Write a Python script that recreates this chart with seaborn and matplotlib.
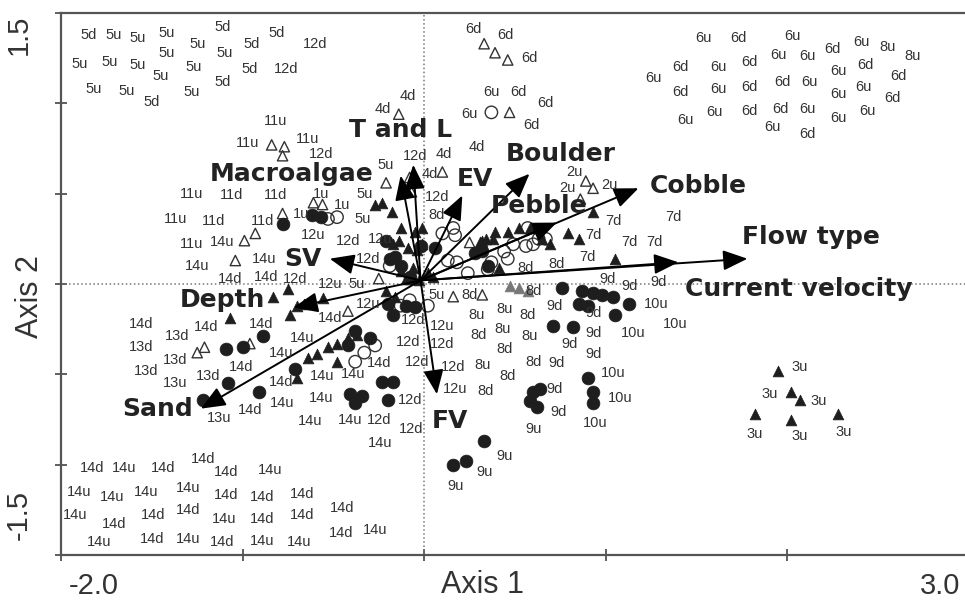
import matplotlib
matplotlib.use("Agg")
import matplotlib.pyplot as plt
import seaborn as sns
import pandas as pd

# sample labels (site + u/d)
labels_top_left = [
    ("5d", -1.85, 1.38), ("5u", -1.71, 1.38), ("5u", -1.58, 1.36), ("5u", -1.42, 1.39),
    ("5d", -1.11, 1.42), ("5u", -1.25, 1.33), ("5d", -0.95, 1.33), ("5d", -0.81, 1.39),
    ("12d", -0.60, 1.33), ("5u", -1.42, 1.28), ("5u", -1.10, 1.28), ("5u", -1.90, 1.22),
    ("5u", -1.73, 1.23), ("5u", -1.58, 1.21), ("5u", -1.45, 1.15), ("5u", -1.27, 1.20),
    ("5d", -0.96, 1.19), ("12d", -0.76, 1.19), ("5d", -1.11, 1.12), ("5u", -1.82, 1.08),
    ("5u", -1.64, 1.07), ("5u", -1.28, 1.06), ("5d", -1.50, 1.01),
]
labels_top_right = [
    ("6u", 1.54, 1.36), ("6d", 1.73, 1.36), ("6u", 2.03, 1.37), ("6u", 1.95, 1.27),
    ("6u", 2.11, 1.26), ("6d", 2.25, 1.30), ("6u", 2.41, 1.34), ("8u", 2.55, 1.31),
    ("8u", 2.69, 1.26), ("6d", 1.41, 1.20), ("6u", 1.62, 1.20), ("6d", 1.79, 1.23),
    ("6u", 1.26, 1.14), ("6u", 2.28, 1.18), ("6d", 2.43, 1.21), ("6d", 2.61, 1.15),
    ("6d", 1.41, 1.06), ("6u", 1.62, 1.08), ("6d", 1.79, 1.09), ("6d", 1.97, 1.12),
    ("6u", 2.12, 1.12), ("6u", 2.28, 1.05), ("6u", 2.42, 1.09), ("6d", 2.58, 1.03),
    ("6u", 1.44, 0.91), ("6u", 1.60, 0.95), ("6d", 1.79, 0.96), ("6d", 1.96, 0.97),
    ("6u", 2.11, 0.97), ("6u", 1.92, 0.87), ("6d", 2.11, 0.83), ("6u", 2.28, 0.92),
    ("6u", 2.44, 0.96),
]
labels_top_mid = [
    ("6d", 0.27, 1.41), ("6d", 0.45, 1.38), ("6d", 0.58, 1.25), ("6u", 0.37, 1.06),
    ("6d", 0.52, 1.06), ("6d", 0.67, 1.00), ("6u", 0.25, 0.94), ("6d", 0.59, 0.88),
    ("4d", 0.29, 0.76), ("4d", -0.09, 1.04), ("4d", -0.23, 0.97), ("12d", -0.05, 0.71),
    ("4d", 0.11, 0.72), ("5u", -0.21, 0.66), ("4d", 0.03, 0.61), ("2u", 0.83, 0.62),
    ("2u", 0.79, 0.53), ("2u", 1.02, 0.55),
]
labels_left_mid = [
    ("11u", -0.82, 0.90), ("11u", -0.97, 0.78), ("11u", -0.64, 0.80), ("12d", -0.57, 0.72),
    ("11u", -1.28, 0.50), ("11d", -1.06, 0.49), ("11d", -0.82, 0.49), ("1u", -0.57, 0.50),
    ("11u", -1.37, 0.36), ("11d", -1.16, 0.35), ("11d", -0.89, 0.35), ("1u", -0.68, 0.39),
    ("12u", -0.61, 0.27), ("11u", -1.28, 0.22), ("14u", -1.11, 0.23), ("14u", -1.25, 0.10),
    ("14u", -0.88, 0.14), ("14d", -1.07, 0.03), ("14d", -0.87, 0.04), ("12d", -0.71, 0.03),
]
labels_left_low = [
    ("14d", -1.56, -0.22), ("14d", -1.20, -0.24), ("14d", -0.90, -0.22), ("13d", -1.36, -0.29),
    ("13d", -1.56, -0.35), ("14u", -0.67, -0.30), ("13d", -1.37, -0.42), ("14u", -0.79, -0.38),
    ("13d", -1.53, -0.48), ("14d", -1.01, -0.46), ("13u", -1.37, -0.55), ("13d", -1.19, -0.51),
    ("14d", -0.79, -0.54), ("14u", -0.78, -0.66), ("14d", -0.96, -0.70), ("13u", -1.13, -0.74),
    ("14u", -0.63, -0.76), ("14u", -0.41, -0.75), ("12d", -0.25, -0.75), ("12d", -0.07, -0.80),
    ("14u", -0.24, -0.88), ("14u", -0.56, -0.51), ("14u", -0.39, -0.50), ("14u", -0.57, -0.63),
    ("12d", -0.08, -0.64), ("14d", -0.25, -0.44), ("12d", -0.09, -0.32), ("12d", 0.10, -0.33),
    ("12d", -0.04, -0.43),
]
labels_center = [
    ("12d", -0.31, 0.14), ("12u", -0.52, 0.00), ("5u", -0.37, 0.00), ("14d", -0.52, -0.19),
    ("12u", -0.31, -0.11), ("5u", -0.33, 0.50), ("12d", 0.07, 0.48), ("1u", -0.45, 0.44),
    ("5u", -0.34, 0.36), ("8d", 0.07, 0.38), ("12d", -0.42, 0.24), ("12u", -0.24, 0.25),
    ("5u", 0.07, -0.06), ("8d", 0.25, -0.06), ("12u", 0.10, -0.23), ("12d", -0.06, -0.20),
]
labels_right_mid = [
    ("7d", 1.04, 0.35), ("7d", 1.37, 0.37), ("7d", 0.93, 0.27), ("7d", 1.13, 0.23),
    ("7d", 1.27, 0.23), ("7d", 0.90, 0.15), ("8d", 0.56, 0.09), ("8d", 0.73, 0.11),
    ("9d", 1.01, 0.03), ("9d", 1.13, -0.01), ("9d", 1.29, 0.01), ("8d", 0.60, -0.04),
    ("9d", 0.72, -0.12), ("9d", 0.93, -0.16), ("8u", 0.29, -0.17), ("8u", 0.44, -0.14),
    ("8d", 0.57, -0.17), ("10u", 1.15, -0.27), ("10u", 1.28, -0.11), ("10u", 1.38, -0.22),
    ("8d", 0.30, -0.28), ("8u", 0.43, -0.25), ("8u", 0.58, -0.29), ("8d", 0.44, -0.36),
    ("8d", 0.60, -0.43), ("12d", 0.16, -0.46), ("8u", 0.32, -0.45), ("8d", 0.46, -0.51),
    ("12u", 0.17, -0.58), ("8d", 0.34, -0.59), ("9d", 0.80, -0.33), ("9d", 0.93, -0.39),
    ("9d", 0.73, -0.44), ("10u", 1.04, -0.49), ("9d", 0.72, -0.58), ("10u", 1.08, -0.63),
    ("9d", 0.93, -0.27), ("9d", 0.74, -0.71), ("9u", 0.60, -0.80), ("10u", 0.94, -0.77),
    ("9u", 0.44, -0.95), ("9u", 0.33, -1.04), ("9u", 0.17, -1.12),
]
labels_3u = [
    ("3u", 2.07, -0.46), ("3u", 1.90, -0.61), ("3u", 2.17, -0.65),
    ("3u", 1.82, -0.83), ("3u", 2.07, -0.84), ("3u", 2.31, -0.82),
]
labels_bottom_left = [
    ("14d", -1.83, -1.02), ("14u", -1.65, -1.02), ("14d", -1.44, -1.02), ("14d", -1.22, -0.97),
    ("14d", -1.09, -1.04), ("14u", -0.85, -1.03),
    ("14u", -1.90, -1.15), ("14u", -1.72, -1.18), ("14u", -1.53, -1.15), ("14u", -1.30, -1.13),
    ("14d", -1.09, -1.17), ("14d", -0.89, -1.18), ("14d", -0.67, -1.16),
    ("14u", -1.92, -1.28), ("14d", -1.71, -1.33), ("14d", -1.49, -1.28), ("14d", -1.30, -1.25),
    ("14u", -1.10, -1.30), ("14d", -0.89, -1.30), ("14d", -0.67, -1.28),
    ("14u", -1.79, -1.43), ("14d", -1.50, -1.41), ("14u", -1.30, -1.41), ("14d", -1.11, -1.43),
    ("14u", -0.89, -1.42), ("14u", -0.69, -1.43),
    ("14d", -0.45, -1.24), ("14d", -0.46, -1.38), ("14u", -0.27, -1.36),
]

# sample symbols
filled_circles = [
    (-0.78, 0.33), (-0.62, 0.38), (-0.57, 0.37), (-0.89, -0.29), (-1.09, -0.36), (-1.00, -0.35),
    (-0.71, -0.47), (-1.08, -0.55), (-0.91, -0.60), (-1.22, -0.64), (-0.20, -0.11), (-0.17, -0.17),
    (-0.10, -0.12), (-0.05, -0.13), (-0.38, -0.26), (-0.30, -0.30), (-0.42, -0.34), (-0.23, -0.54),
    (-0.17, -0.54), (-0.41, -0.61), (-0.34, -0.62), (-0.38, -0.66), (-0.20, -0.64), (0.76, -0.02),
    (0.87, -0.04), (0.93, -0.05), (0.98, -0.06), (1.04, -0.07), (0.85, -0.11), (0.90, -0.12),
    (1.05, -0.17), (1.13, -0.11), (0.71, -0.23), (0.82, -0.24), (0.90, -0.52), (0.60, -0.60),
    (0.64, -0.58), (0.93, -0.60), (0.58, -0.65), (0.62, -0.68), (0.93, -0.66), (0.33, -0.87),
    (0.16, -1.00), (0.23, -0.98), (0.28, 0.17), (0.32, 0.18), (0.35, 0.10), (-0.13, 0.10),
    (-0.08, 0.04), (-0.16, 0.15), (-0.21, 0.24), (-0.19, 0.14), (-0.02, 0.21), (0.06, 0.20),
]
filled_triangles = [
    (-0.83, -0.07), (-0.75, -0.03), (-0.70, -0.12), (-0.66, -0.11), (-0.56, -0.08), (-0.74, -0.17),
    (-1.07, -0.19), (-0.27, 0.44), (-0.23, 0.45), (-0.18, 0.40), (-0.70, -0.52), (-0.64, -0.41),
    (-0.59, -0.39), (-0.53, -0.35), (-0.48, -0.33), (-0.48, -0.43), (-0.42, -0.30), (-0.37, -0.28),
    (0.34, 0.25), (0.39, 0.29), (0.46, 0.29), (0.52, 0.31), (0.58, 0.31), (0.65, 0.25),
    (0.69, 0.22), (0.79, 0.28), (0.85, 0.25), (0.93, 0.40), (1.05, 0.14), (0.41, 0.09),
    (0.32, 0.24), (0.38, 0.25), (-0.13, 0.31), (-0.05, 0.29), (-0.01, 0.31), (-0.17, 0.22),
    (-0.09, 0.20), (-0.04, 0.19), (-0.01, 0.22), (-0.13, 0.07), (-0.06, 0.09), (-0.08, 0.03),
    (-0.03, 0.02), (0.02, 0.06), (-0.10, 0.03), (0.05, 0.04), (-0.14, 0.24), (0.31, 0.23),
    (-0.21, -0.04), (-0.16, -0.07), (1.95, -0.48), (2.02, -0.60), (2.07, -0.64), (1.82, -0.72),
    (2.02, -0.75), (2.28, -0.72),
]
grey_triangles = [(0.47, -0.01), (0.52, -0.02), (0.57, -0.04)]
open_circles = [
    (-0.53, 0.36), (-0.48, 0.37), (0.37, 0.95), (0.10, 0.28), (0.16, 0.31), (0.17, 0.27),
    (0.13, 0.13), (0.18, 0.12), (0.24, 0.06), (0.35, 0.08), (0.46, 0.14), (-0.13, -0.12),
    (-0.08, -0.09), (0.02, -0.12), (-0.38, -0.43), (-0.33, -0.38), (-0.27, -0.34), (0.44, 0.18),
    (0.49, 0.22), (0.60, 0.22), (0.63, 0.25), (0.57, 0.31), (0.37, 0.12), (0.56, 0.21),
    (0.67, 0.25), (-0.19, 0.10),
]
open_triangles = [
    (0.33, 1.33), (0.39, 1.28), (0.46, 1.24), (0.47, 0.95), (-0.14, 0.94), (0.10, 0.62),
    (0.89, 0.57), (0.93, 0.53), (0.86, 0.47), (-0.84, 0.77), (-0.77, 0.76), (-0.78, 0.71),
    (-0.61, 0.45), (-0.56, 0.44), (-0.78, 0.39), (-0.99, 0.24), (-0.93, 0.28), (-1.04, 0.13),
    (-1.25, -0.38), (-1.21, -0.35), (-0.96, -0.33), (-0.25, 0.03), (-0.42, -0.15), (0.16, -0.07),
    (0.32, -0.06), (-0.21, 0.56), (-0.07, 0.51), (-0.08, 0.59), (0.25, 0.23),
]

# environmental vectors
vector_names = ["Flow type", "Current velocity", "Cobble", "Pebble", "Boulder", "EV",
                "T and L", "Macroalgae", "SV", "Depth", "Sand", "FV"]
vector_x = [1.78, 1.40, 1.18, 0.73, 0.58, 0.21, -0.06, -0.13, -0.52, -0.72, -1.23, 0.07]
vector_y = [0.14, 0.12, 0.53, 0.34, 0.61, 0.49, 0.66, 0.60, 0.14, -0.13, -0.69, -0.61]
vlabel_x = [2.13, 2.06, 1.51, 0.63, 0.75, 0.28, -0.13, -0.73, -0.67, -1.11, -1.47, 0.14]
vlabel_y = [0.26, -0.03, 0.54, 0.43, 0.72, 0.58, 0.85, 0.61, 0.14, -0.09, -0.69, -0.76]
origin = (-0.02, 0.02)

sns.set_style("white")
plt.rcParams['font.family'] = ['Liberation Sans', 'DejaVu Sans']

fig = plt.figure(figsize=(9.65, 6.03), dpi=100)
ax = fig.add_axes([61 / 965, 48 / 603, 908 / 965, 542 / 603])

ax.axhline(0, color='#777777', ls=':', lw=1.1, zorder=1)
ax.axvline(0, color='#777777', ls=':', lw=1.1, zorder=1)

def pts(lst):
    return pd.DataFrame(lst, columns=['x', 'y'])

ink = '#1e1e1e'
sns.scatterplot(data=pts(open_circles), x='x', y='y', marker='o', s=80, color=ink,
                facecolor='none', edgecolor='#333333', linewidth=1.0, ax=ax, zorder=2)
sns.scatterplot(data=pts(open_triangles), x='x', y='y', marker='^', s=55, color=ink,
                facecolor='none', edgecolor='#333333', linewidth=1.0, ax=ax, zorder=2)
sns.scatterplot(data=pts(filled_circles), x='x', y='y', marker='o', s=85, color=ink,
                edgecolor=ink, linewidth=0.5, ax=ax, zorder=3)
sns.scatterplot(data=pts(filled_triangles), x='x', y='y', marker='^', s=60, color=ink,
                edgecolor=ink, linewidth=0.5, ax=ax, zorder=3)
sns.scatterplot(data=pts(grey_triangles), x='x', y='y', marker='^', s=60, color='#777777',
                edgecolor='#777777', linewidth=0.5, ax=ax, zorder=3)

# vectors
for name, tx, ty, lx, ly in zip(vector_names, vector_x, vector_y, vlabel_x, vlabel_y):
    ax.annotate('', xy=(tx, ty), xytext=origin,
                arrowprops=dict(arrowstyle='-|>,head_length=0.65,head_width=0.27',
                                mutation_scale=23, color='black', lw=1.4,
                                shrinkA=0, shrinkB=0), zorder=4)
    ax.text(lx, ly, name, fontsize=18, fontweight='bold', family='DejaVu Sans',
            color='#222222', ha='center', va='center', zorder=6)

all_labels = (labels_top_left + labels_top_right + labels_top_mid + labels_left_mid +
              labels_left_low + labels_center + labels_right_mid + labels_3u +
              labels_bottom_left)
for txt, x, y in all_labels:
    ax.text(x, y, txt, fontsize=10.5, color='#333333', ha='center', va='center', zorder=5)

ax.set_xlim(-2.0, 3.0)
ax.set_ylim(-1.5, 1.5)

# tick marks (minor) and end labels (major, no marks)
ax.set_xticks([-2, -1, 0, 1, 2, 3], minor=True)
ax.set_yticks([-1.5, -1.0, -0.5, 0, 0.5, 1.0, 1.5], minor=True)
ax.set_xticks([-1.96, 2.95], ['-2.0', '3.0'])
ax.set_yticks([-1.28, 1.38], ['-1.5', '1.5'])
ax.tick_params(which='minor', direction='inout', length=9, width=1.2, color='#444444',
               bottom=True, left=True)
ax.tick_params(which='major', length=0, labelsize=21, labelcolor='#333333')
ax.tick_params(axis='x', which='major', pad=12)
ax.tick_params(axis='y', which='major', pad=20)
xl = ax.get_xticklabels()
xl[0].set_ha('left')
xl[1].set_ha('right')
for t in ax.get_yticklabels():
    t.set_rotation(90)
    t.set_va('center')

ax.set_xlabel('Axis 1', fontsize=22, color='#333333')
ax.set_ylabel('Axis 2', fontsize=22, color='#333333')
ax.xaxis.set_label_coords(0.464, -0.055)
ax.yaxis.set_label_coords(-0.034, 0.476)
ax.xaxis.label.set_va('center')
ax.yaxis.label.set_va('center')

for side in ['left', 'top', 'bottom']:
    ax.spines[side].set_color('#555555')
    ax.spines[side].set_linewidth(1.6)
ax.spines['right'].set_visible(False)

fig.savefig('out.png', dpi=100)
